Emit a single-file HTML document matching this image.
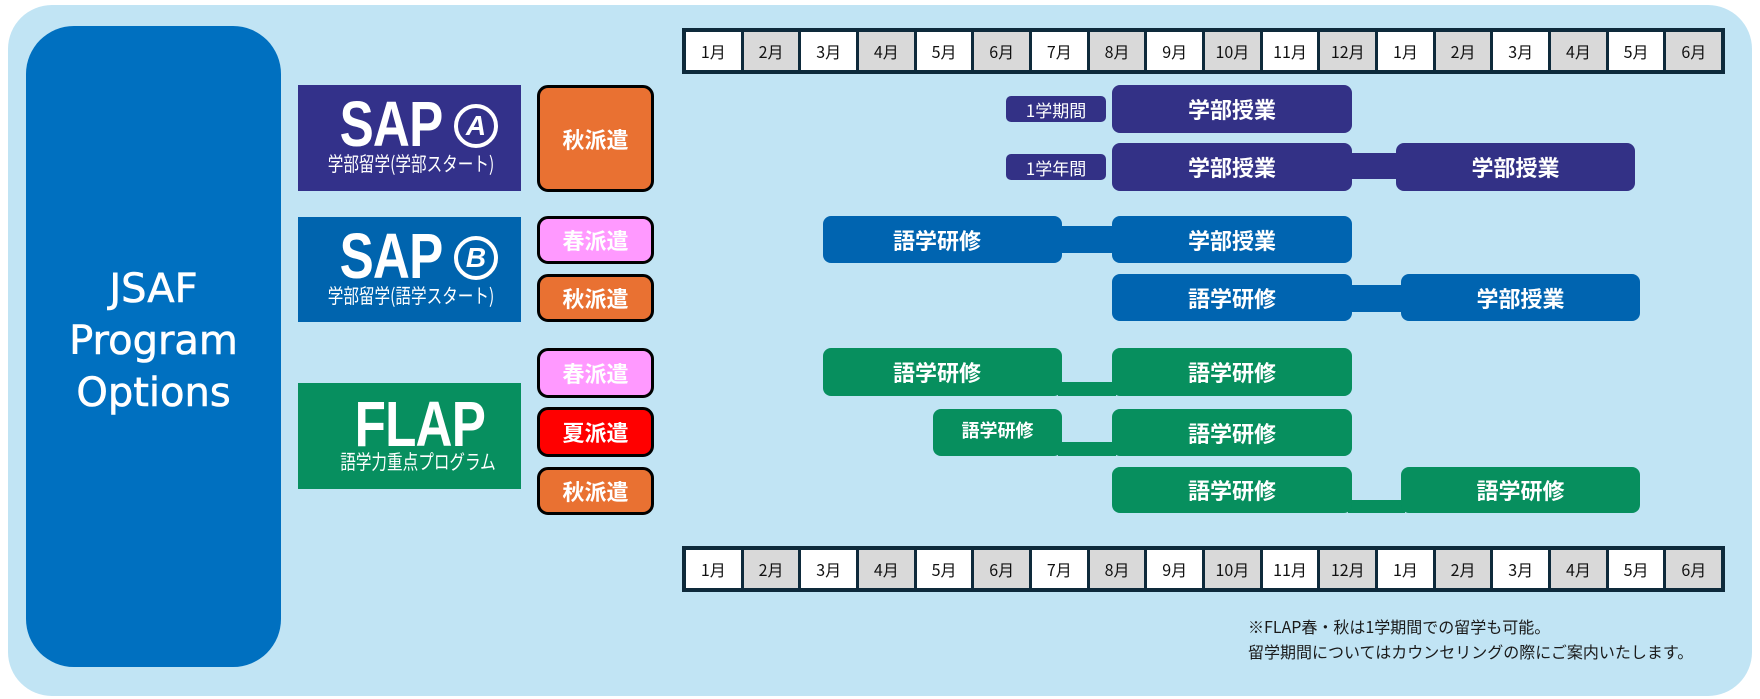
<!DOCTYPE html>
<html><head><meta charset="utf-8"><style>
*{margin:0;padding:0;box-sizing:border-box}
body{width:1760px;height:699px;background:#fff;position:relative;overflow:hidden;font-family:"Liberation Sans","Noto Sans CJK JP",sans-serif}
.a{position:absolute}
.panel{left:8px;top:5px;width:1744px;height:691px;background:#c1e4f4;border-radius:44px}
.jsaf{left:26px;top:26px;width:255px;height:641px;background:#0070c0;border-radius:48px;color:#fff;font-family:"DejaVu Sans",sans-serif;font-size:40px;line-height:52px;text-align:center;padding-top:237px;-webkit-text-stroke:0.6px #fff}
.prog{color:#fff;text-align:center}
.big{font-family:"Liberation Sans",sans-serif;font-weight:bold;font-size:64px;line-height:60px;transform:scaleX(0.8);letter-spacing:-1px}
.sub{font-family:"Noto Sans CJK JP",sans-serif;font-size:20px;line-height:24px;transform:scaleX(0.78);white-space:nowrap}
.btn{left:537px;width:117px;border:3px solid #000;border-radius:11px;color:#fff;font-family:"Noto Sans CJK JP",sans-serif;font-weight:bold;font-size:22px;display:flex;align-items:center;justify-content:center}
.hdr{left:682px;width:1043px;height:46px;background:#0e2a3b;padding:4px;display:flex;gap:3px}
.hdr div{flex:1;background:#fff;font-family:"Noto Sans CJK JP",sans-serif;font-size:16px;display:flex;align-items:center;justify-content:center;color:#111}
.hdr div.g{background:#d9d9d9}
.bar{border-radius:8px;color:#fff;font-family:"Noto Sans CJK JP",sans-serif;font-weight:bold;font-size:22px;display:flex;align-items:center;justify-content:center}
.p{background:#333186}.b{background:#0064b0}.gr{background:#078f5e}
.tag{left:1006px;width:100px;height:26px;background:#333186;border-radius:5px;color:#fff;font-family:"Noto Sans CJK JP",sans-serif;font-size:17px;display:flex;align-items:center;justify-content:center}
.note{left:1248px;font-family:"Noto Sans CJK JP",sans-serif;font-size:16px;line-height:25px;color:#1a1a1a;white-space:nowrap}
</style></head><body>
<div class="a panel"></div>
<div class="a jsaf">JSAF<br>Program<br>Options</div>

<div class="a" style="left:298px;top:85px;width:223px;height:106px;background:#33318a"></div>
<div class="a prog big" style="left:326px;top:94px;width:130px">SAP</div>
<div class="a" style="left:454px;top:104px;width:44px;height:44px;border:4px solid #fff;border-radius:50%;color:#fff;font:bold italic 28px/36px 'Liberation Sans',sans-serif;text-align:center">A</div>
<div class="a prog sub" style="left:300px;top:151px;width:222px">学部留学(学部スタート)</div>

<div class="a" style="left:298px;top:217px;width:223px;height:105px;background:#0064ae"></div>
<div class="a prog big" style="left:326px;top:226px;width:130px">SAP</div>
<div class="a" style="left:454px;top:236px;width:44px;height:44px;border:4px solid #fff;border-radius:50%;color:#fff;font:bold italic 28px/36px 'Liberation Sans',sans-serif;text-align:center">B</div>
<div class="a prog sub" style="left:300px;top:283px;width:222px">学部留学(語学スタート)</div>

<div class="a" style="left:298px;top:383px;width:223px;height:106px;background:#078f5f"></div>
<div class="a prog big" style="left:340px;top:394px;width:146px;font-size:64px">FLAP</div>
<div class="a prog sub" style="left:306px;top:449px;width:224px">語学力重点プログラム</div>

<div class="a btn" style="top:85px;height:107px;background:#e97132">秋派遣</div>
<div class="a btn" style="top:216px;height:48px;background:#ff99ff">春派遣</div>
<div class="a btn" style="top:274px;height:48px;background:#e97132">秋派遣</div>
<div class="a btn" style="top:348px;height:50px;background:#ff99ff">春派遣</div>
<div class="a btn" style="top:407px;height:50px;background:#ff0000">夏派遣</div>
<div class="a btn" style="top:467px;height:48px;background:#e97132">秋派遣</div>

<div class="a hdr" style="top:28px"><div>1月</div><div class="g">2月</div><div>3月</div><div class="g">4月</div><div>5月</div><div class="g">6月</div><div>7月</div><div class="g">8月</div><div>9月</div><div class="g">10月</div><div>11月</div><div class="g">12月</div><div>1月</div><div class="g">2月</div><div>3月</div><div class="g">4月</div><div>5月</div><div class="g">6月</div></div>
<div class="a hdr" style="top:546px"><div>1月</div><div class="g">2月</div><div>3月</div><div class="g">4月</div><div>5月</div><div class="g">6月</div><div>7月</div><div class="g">8月</div><div>9月</div><div class="g">10月</div><div>11月</div><div class="g">12月</div><div>1月</div><div class="g">2月</div><div>3月</div><div class="g">4月</div><div>5月</div><div class="g">6月</div></div>

<div class="a tag" style="top:96px">1学期間</div>
<div class="a bar p" style="left:1112px;top:85px;width:240px;height:48px">学部授業</div>
<div class="a tag" style="top:154px">1学年間</div>
<div class="a p" style="left:1350px;top:153px;width:48px;height:26px"></div>
<div class="a bar p" style="left:1112px;top:143px;width:240px;height:48px">学部授業</div>
<div class="a bar p" style="left:1396px;top:143px;width:239px;height:48px">学部授業</div>

<div class="a b" style="left:1060px;top:226px;width:54px;height:27px"></div>
<div class="a bar b" style="left:823px;top:216px;width:239px;height:47px;justify-content:flex-start;padding-left:70px">語学研修</div>
<div class="a bar b" style="left:1112px;top:216px;width:240px;height:47px">学部授業</div>
<div class="a b" style="left:1350px;top:285px;width:53px;height:27px"></div>
<div class="a bar b" style="left:1112px;top:274px;width:240px;height:47px">語学研修</div>
<div class="a bar b" style="left:1401px;top:274px;width:239px;height:47px">学部授業</div>

<div class="a gr" style="left:1058px;top:382px;width:58px;height:14px"></div>
<div class="a bar gr" style="left:823px;top:348px;width:239px;height:48px;justify-content:flex-start;padding-left:70px">語学研修</div>
<div class="a bar gr" style="left:1112px;top:348px;width:240px;height:48px">語学研修</div>
<div class="a gr" style="left:1058px;top:442px;width:58px;height:14px"></div>
<div class="a bar gr" style="left:933px;top:409px;width:129px;height:47px;font-size:18px;padding-bottom:6px">語学研修</div>
<div class="a bar gr" style="left:1112px;top:409px;width:240px;height:47px">語学研修</div>
<div class="a gr" style="left:1348px;top:500px;width:57px;height:13px"></div>
<div class="a bar gr" style="left:1112px;top:467px;width:240px;height:46px">語学研修</div>
<div class="a bar gr" style="left:1401px;top:467px;width:239px;height:46px">語学研修</div>

<div class="a note" style="top:614px">※FLAP春・秋は1学期間での留学も可能。<br>留学期間についてはカウンセリングの際にご案内いたします。</div>
</body></html>
